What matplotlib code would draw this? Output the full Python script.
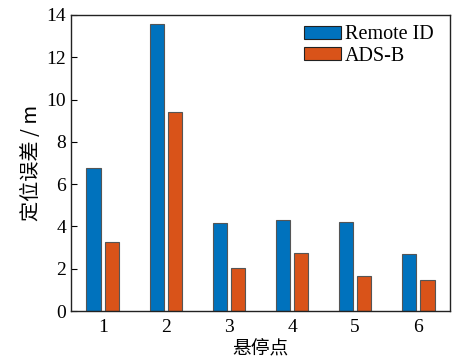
import matplotlib.pyplot as plt
import numpy as np

# hover points and positioning error (m)
points = ["1", "2", "3", "4", "5", "6"]
remote_id = [6.75, 13.58, 4.18, 4.29, 4.19, 2.72]
ads_b = [3.25, 9.42, 2.03, 2.76, 1.66, 1.49]

plt.rcParams['font.family'] = ['Liberation Serif', 'Noto Sans CJK SC']
plt.rcParams['font.size'] = 14

fig = plt.figure(figsize=(4.53, 3.63), dpi=100)
ax = fig.add_axes([0.157, 0.143, 0.836, 0.816])

x = np.arange(1, len(points) + 1)
w = 0.225
ax.bar(x - 0.145, remote_id, w, color='#0072BD', edgecolor='#555555', linewidth=0.8, label='Remote ID')
ax.bar(x + 0.145, ads_b, w, color='#D95319', edgecolor='#555555', linewidth=0.8, label='ADS-B')

ax.set_xlim(0.5, 6.5)
ax.set_ylim(0, 14)
ax.set_xticks(x)
ax.set_xticklabels(points)
ax.set_yticks(np.arange(0, 15, 2))
ax.tick_params(axis='y', direction='in', length=4, width=0.8, labelsize=14)
ax.tick_params(axis='x', length=0, pad=6, labelsize=14)
for s in ax.spines.values():
    s.set_linewidth(1.0)
    s.set_color('#222222')

ax.set_xlabel('悬停点', family=['Noto Sans CJK SC'], fontsize=13.5, labelpad=1)
ax.set_ylabel('定位误差 / m', family=['Noto Sans CJK SC', 'Liberation Serif'],
              fontsize=14.5, labelpad=3)

leg = ax.legend(loc='upper left', bbox_to_anchor=(0.615, 0.965), frameon=False,
                borderaxespad=0, borderpad=0, handlelength=1.85, handleheight=0.62,
                handletextpad=0.18, labelspacing=0.12, fontsize=14.5)
for h in leg.legend_handles:
    h.set_edgecolor('#222222')

fig.savefig('out.png', dpi=100)
